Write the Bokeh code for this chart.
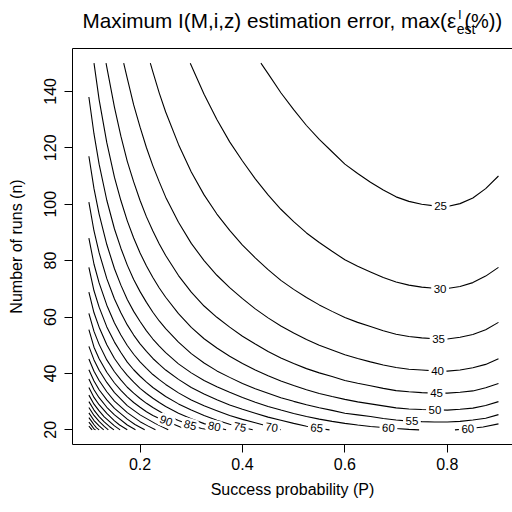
from bokeh.plotting import figure
from bokeh.layouts import column
from bokeh.models import ColumnDataSource, LabelSet, LinearAxis, FixedTicker, Range1d
from bokeh.core.properties import value
from bokeh.embed import file_html
from bokeh.resources import INLINE

# ---- contour lines: success probability P, number of runs n ----
P25 = [0.436, 0.45, 0.475, 0.50, 0.525, 0.55, 0.575, 0.60, 0.625, 0.65, 0.675, 0.70, 0.725, 0.75, 0.775, 0.80, 0.825, 0.85, 0.875, 0.90]
n25 = [150.0, 146.3, 139.5, 133.5, 127.9, 123.0, 118.6, 114.2, 110.9, 107.8, 105.0, 102.6, 101.0, 100.0, 99.4, 99.2, 100.2, 102.2, 105.5, 110.0]
P30 = [0.298, 0.325, 0.35, 0.375, 0.40, 0.425, 0.45, 0.475, 0.50, 0.525, 0.55, 0.575, 0.60, 0.625, 0.65, 0.675, 0.70, 0.725, 0.75, 0.775, 0.80, 0.825, 0.85, 0.875, 0.90]
n30 = [150.0, 139.0, 130.0, 122.1, 115.3, 109.0, 103.3, 98.2, 93.8, 89.8, 86.4, 83.3, 80.3, 78.0, 76.0, 74.0, 72.4, 71.3, 70.6, 70.2, 70.1, 70.8, 72.2, 74.5, 77.6]
P35 = [0.22, 0.225, 0.2375, 0.25, 0.275, 0.30, 0.325, 0.35, 0.375, 0.40, 0.425, 0.45, 0.475, 0.50, 0.525, 0.55, 0.575, 0.60, 0.625, 0.65, 0.675, 0.70, 0.725, 0.75, 0.775, 0.80, 0.825, 0.85, 0.875, 0.90]
n35 = [150.0, 146.9, 139.4, 132.7, 121.2, 111.4, 103.3, 96.5, 90.7, 85.5, 81.0, 76.8, 73.0, 69.8, 66.9, 64.3, 62.0, 59.8, 58.1, 56.6, 55.1, 53.9, 53.1, 52.6, 52.3, 52.2, 52.8, 53.8, 55.5, 58.1]
P40 = [0.168, 0.175, 0.1875, 0.20, 0.2125, 0.225, 0.2375, 0.25, 0.275, 0.30, 0.325, 0.35, 0.375, 0.40, 0.425, 0.45, 0.475, 0.50, 0.525, 0.55, 0.575, 0.60, 0.625, 0.65, 0.675, 0.70, 0.725, 0.75, 0.775, 0.80, 0.825, 0.85, 0.875, 0.90]
n40 = [150.0, 144.6, 135.2, 127.3, 120.0, 113.6, 107.9, 102.5, 93.6, 86.1, 80.0, 74.8, 70.4, 66.5, 62.9, 59.7, 56.8, 54.3, 52.0, 50.0, 48.3, 46.6, 45.3, 44.1, 43.0, 42.1, 41.5, 41.2, 40.9, 40.8, 41.2, 42.0, 43.2, 45.2]
P45 = [0.1335, 0.15, 0.1625, 0.175, 0.1875, 0.20, 0.2125, 0.225, 0.2375, 0.25, 0.275, 0.30, 0.325, 0.35, 0.375, 0.40, 0.425, 0.45, 0.475, 0.50, 0.525, 0.55, 0.575, 0.60, 0.625, 0.65, 0.675, 0.70, 0.725, 0.75, 0.775, 0.80, 0.825, 0.85, 0.875, 0.90]
n45 = [150.0, 134.3, 124.1, 115.2, 107.9, 101.3, 95.5, 90.5, 85.9, 81.8, 74.7, 68.8, 63.9, 59.9, 56.4, 53.2, 50.4, 47.8, 45.5, 43.5, 41.7, 40.2, 38.9, 37.5, 36.5, 35.6, 34.7, 33.9, 33.5, 33.2, 33.0, 33.0, 33.3, 33.8, 34.9, 36.4]
P50 = [0.11, 0.12, 0.135, 0.15, 0.1625, 0.175, 0.1875, 0.20, 0.2125, 0.225, 0.2375, 0.25, 0.275, 0.30, 0.325, 0.35, 0.375, 0.40, 0.425, 0.45, 0.475, 0.50, 0.525, 0.55, 0.575, 0.60, 0.625, 0.65, 0.675, 0.70, 0.725, 0.75, 0.775, 0.80, 0.825, 0.85, 0.875, 0.90]
n50 = [150.0, 137.1, 121.8, 109.5, 101.3, 94.1, 88.0, 82.7, 78.1, 74.0, 70.3, 67.0, 61.2, 56.3, 52.3, 49.0, 46.1, 43.5, 41.2, 39.2, 37.3, 35.7, 34.2, 32.9, 31.8, 30.8, 29.9, 29.2, 28.5, 27.8, 27.4, 27.2, 27.1, 27.0, 27.3, 27.7, 28.6, 30.0]
P55 = [0.10, 0.11, 0.12, 0.135, 0.15, 0.1625, 0.175, 0.1875, 0.20, 0.2125, 0.225, 0.2375, 0.25, 0.275, 0.30, 0.325, 0.35, 0.375, 0.40, 0.425, 0.45, 0.475, 0.50, 0.525, 0.55, 0.575, 0.60, 0.625, 0.65, 0.675, 0.70, 0.725, 0.75, 0.775, 0.80, 0.825, 0.85, 0.875, 0.90]
n55 = [138.0, 124.9, 114.2, 101.4, 91.2, 84.4, 78.4, 73.3, 69.0, 65.2, 61.7, 58.6, 55.9, 51.1, 47.0, 43.7, 40.9, 38.6, 36.4, 34.6, 33.0, 31.4, 30.1, 28.9, 27.8, 26.9, 25.9, 25.3, 24.7, 24.0, 23.5, 23.1, 22.9, 22.8, 22.8, 23.0, 23.5, 24.1, 25.4]
P60 = [0.10, 0.11, 0.12, 0.135, 0.15, 0.1625, 0.175, 0.1875, 0.20, 0.2125, 0.225, 0.2375, 0.25, 0.275, 0.30, 0.325, 0.35, 0.375, 0.40, 0.425, 0.45, 0.475, 0.50, 0.525, 0.55, 0.575, 0.60, 0.625, 0.65, 0.675, 0.70, 0.725, 0.745]
n60 = [117.0, 105.5, 96.5, 85.7, 77.1, 71.3, 66.2, 62.0, 58.4, 55.1, 52.2, 49.7, 47.4, 43.4, 40.2, 37.5, 35.3, 33.3, 31.5, 29.8, 28.3, 27.0, 25.8, 24.7, 23.8, 23.0, 22.3, 21.7, 21.2, 20.8, 20.45, 20.15, 20.0]
P60b = [0.815, 0.84, 0.87, 0.90]
n60b = [20.0, 20.4, 21.0, 22.1]
P65 = [0.10, 0.11, 0.12, 0.135, 0.15, 0.1625, 0.175, 0.1875, 0.20, 0.2125, 0.225, 0.2375, 0.25, 0.275, 0.30, 0.325, 0.35, 0.375, 0.40, 0.425, 0.45, 0.475, 0.50, 0.525, 0.55, 0.57]
n65 = [100.7, 90.5, 82.8, 73.6, 66.4, 61.5, 57.2, 53.6, 50.5, 47.8, 45.3, 43.2, 41.2, 37.9, 35.0, 32.7, 30.7, 28.8, 27.3, 25.9, 24.5, 23.4, 22.3, 21.3, 20.5, 20.0]
P70 = [0.10, 0.11, 0.12, 0.135, 0.15, 0.1625, 0.175, 0.1875, 0.20, 0.2125, 0.225, 0.2375, 0.25, 0.275, 0.30, 0.325, 0.35, 0.375, 0.40, 0.425, 0.45, 0.475]
n70 = [88.0, 78.7, 72.1, 64.2, 57.9, 53.6, 49.9, 46.8, 44.1, 41.8, 39.6, 37.8, 36.1, 33.1, 30.6, 28.5, 26.8, 25.1, 23.7, 22.5, 21.3, 20.0]
P75 = [0.10, 0.11, 0.12, 0.135, 0.15, 0.1625, 0.175, 0.1875, 0.20, 0.2125, 0.225, 0.2375, 0.25, 0.275, 0.30, 0.325, 0.35, 0.375, 0.40, 0.42]
n75 = [77.6, 69.3, 63.5, 56.5, 51.1, 47.4, 44.0, 41.3, 39.0, 36.9, 35.0, 33.4, 31.8, 29.2, 27.0, 25.1, 23.4, 22.0, 20.8, 20.0]
P80 = [0.10, 0.11, 0.12, 0.135, 0.15, 0.1625, 0.175, 0.1875, 0.20, 0.2125, 0.225, 0.2375, 0.25, 0.275, 0.30, 0.325, 0.35, 0.368]
n80 = [68.8, 61.5, 56.4, 50.2, 45.3, 42.1, 39.3, 36.9, 34.7, 32.9, 31.2, 29.7, 28.3, 25.9, 23.9, 22.2, 20.8, 20.0]
P85 = [0.10, 0.11, 0.12, 0.135, 0.15, 0.1625, 0.175, 0.1875, 0.20, 0.2125, 0.225, 0.2375, 0.25, 0.275, 0.30, 0.32, 0.335]
n85 = [61.3, 54.9, 50.3, 44.8, 40.6, 37.7, 35.1, 33.0, 31.1, 29.4, 27.9, 26.6, 25.3, 23.3, 21.6, 20.5, 20.0]
P90 = [0.10, 0.11, 0.12, 0.135, 0.15, 0.1625, 0.175, 0.1875, 0.20, 0.2125, 0.225, 0.2375, 0.25, 0.275, 0.292]
n90 = [55.5, 49.3, 45.2, 40.4, 36.6, 34.0, 31.7, 29.7, 28.0, 26.4, 25.1, 24.0, 23.2, 21.3, 20.0]
P95 = [0.10, 0.11, 0.12, 0.135, 0.15, 0.175, 0.20, 0.23, 0.255]
n95 = [49.6, 44.8, 41.1, 36.8, 33.2, 28.6, 25.3, 22.2, 20.0]
P100 = [0.10, 0.11, 0.12, 0.135, 0.15, 0.175, 0.20, 0.215, 0.23]
n100 = [45.1, 40.8, 37.5, 33.5, 30.2, 26.1, 22.9, 21.4, 20.0]
P105 = [0.10, 0.11, 0.12, 0.135, 0.15, 0.175, 0.19, 0.209]
n105 = [41.3, 37.3, 34.2, 30.6, 27.6, 23.8, 21.9, 20.0]
P110 = [0.10, 0.11, 0.12, 0.135, 0.15, 0.175, 0.191]
n110 = [38.0, 34.2, 31.4, 28.0, 25.3, 21.7, 20.0]
P115 = [0.10, 0.11, 0.12, 0.135, 0.15, 0.16, 0.175]
n115 = [35.0, 31.5, 28.9, 25.8, 23.2, 21.7, 20.0]
P120 = [0.10, 0.11, 0.12, 0.13, 0.14, 0.15, 0.161]
n120 = [32.3, 29.1, 26.7, 24.6, 23.0, 21.4, 20.0]
P125 = [0.10, 0.11, 0.12, 0.13, 0.14, 0.149]
n125 = [30.0, 27.0, 24.7, 22.8, 21.2, 20.0]
P130 = [0.10, 0.11, 0.12, 0.13, 0.138]
n130 = [27.9, 25.1, 23.0, 21.2, 20.0]
P135 = [0.10, 0.11, 0.12, 0.129]
n135 = [26.0, 23.3, 21.4, 20.0]
P140 = [0.10, 0.105, 0.11, 0.115, 0.12]
n140 = [24.3, 23.1, 21.8, 20.7, 20.0]
P145 = [0.10, 0.105, 0.11, 0.113]
n145 = [22.7, 21.6, 20.3, 20.0]
P150 = [0.10, 0.103, 0.1064]
n150 = [21.3, 20.65, 20.0]

contours = [
    (P25, n25), (P30, n30), (P35, n35), (P40, n40), (P45, n45), (P50, n50),
    (P55, n55), (P60, n60), (P60b, n60b), (P65, n65), (P70, n70), (P75, n75),
    (P80, n80), (P85, n85), (P90, n90), (P95, n95), (P100, n100), (P105, n105),
    (P110, n110), (P115, n115), (P120, n120), (P125, n125), (P130, n130),
    (P135, n135), (P140, n140), (P145, n145), (P150, n150),
]

# contour labels as placed in the picture
label_text = ["25", "30", "35", "40", "45", "50", "55", "60", "60", "65", "70", "75", "80", "85", "90"]
label_P = [0.787, 0.786, 0.783, 0.781, 0.779, 0.776, 0.731, 0.685, 0.840, 0.545, 0.457, 0.395, 0.345, 0.298, 0.251]
label_n = [99.3, 70.1, 52.3, 40.9, 33.0, 27.1, 23.1, 20.7, 20.4, 20.7, 20.9, 21.0, 21.2, 21.7, 23.2]
label_angle = [0, 0, 0, 0, 0, 0, 0, -3, 4, -6, -8, -10, -12, -15, -20]

x_ticks = [0.2, 0.4, 0.6, 0.8]
y_ticks = [20, 40, 60, 80, 100, 120, 140]

FONT = "Liberation Sans"

# ---- title strip ----
t = figure(width=512, height=40, x_range=Range1d(0, 512), y_range=Range1d(40, 0),
           output_backend="svg", toolbar_location=None, x_axis_type=None, y_axis_type=None,
           min_border=0, background_fill_color="white", border_fill_color="white")
t.outline_line_color = None
t.grid.visible = False
t.title.visible = False
t.text(x=[446.5], y=[20], text=["Maximum I(M,i,z) estimation error, max(\u03b5"],
       text_align="right", text_baseline="alphabetic", text_font=value(FONT),
       text_font_size="20.7px", text_color="black")
t.text(x=[448.5], y=[14], text=["I"], text_align="left", text_baseline="alphabetic",
       text_font=value(FONT), text_font_size="13px", text_color="black")
t.text(x=[447], y=[28.5], text=["est"], text_align="left", text_baseline="alphabetic",
       text_font=value(FONT), text_font_size="14px", text_color="black")
t.text(x=[500], y=[20], text=["(%))"], text_align="right", text_baseline="alphabetic",
       text_font=value(FONT), text_font_size="20px", text_color="black")

# ---- main contour plot ----
p = figure(frame_width=440, frame_height=396,
           x_range=Range1d(0.068, 0.9274), y_range=Range1d(14.8, 155.2),
           output_backend="svg", toolbar_location=None,
           min_border_left=72, min_border_right=0, min_border_top=8, min_border_bottom=68,
           background_fill_color="white", border_fill_color="white")
p.title.visible = False
p.outline_line_color = None
p.grid.visible = False

for ax, ticks, lab in ((p.xaxis[0], x_ticks, "Success probability (P)"),
                       (p.yaxis[0], y_ticks, "Number of runs (n)")):
    ax.ticker = FixedTicker(ticks=ticks)
    ax.major_tick_out = 8
    ax.major_tick_in = 0
    ax.minor_tick_out = 0
    ax.minor_tick_in = 0
    ax.axis_line_color = "black"
    ax.major_tick_line_color = "black"
    ax.major_label_text_font = FONT
    ax.major_label_text_font_size = "16px"
    ax.major_label_text_color = "black"
    ax.axis_label = lab
    ax.axis_label_text_font = FONT
    ax.axis_label_text_font_size = "16px"
    ax.axis_label_text_font_style = "normal"
    ax.axis_label_text_color = "black"

p.xaxis[0].major_label_standoff = 5
p.xaxis[0].axis_label_standoff = 8
p.yaxis[0].major_label_orientation = "vertical"
p.yaxis[0].major_label_standoff = 8
p.yaxis[0].axis_label_standoff = 17

top = LinearAxis(ticker=FixedTicker(ticks=[]), major_tick_out=0, major_tick_in=0,
                 minor_tick_out=0, minor_tick_in=0, major_label_text_font_size="0px",
                 major_label_standoff=0, axis_line_color="black")
p.add_layout(top, "above")

for xs, ys in contours:
    p.line(xs, ys, line_color="black", line_width=1.1)

src = ColumnDataSource(dict(x=label_P, y=label_n, t=label_text, a=label_angle))
p.add_layout(LabelSet(x="x", y="y", text="t", angle="a", angle_units="deg", source=src,
                      text_align="center", text_baseline="middle", text_font=value(FONT),
                      text_font_size="11.5px", text_color="black",
                      background_fill_color="white",
                      border_line_color="white", border_line_width=5))

layout = column(t, p, spacing=0)
open("out.html", "w").write(file_html(layout, INLINE))
